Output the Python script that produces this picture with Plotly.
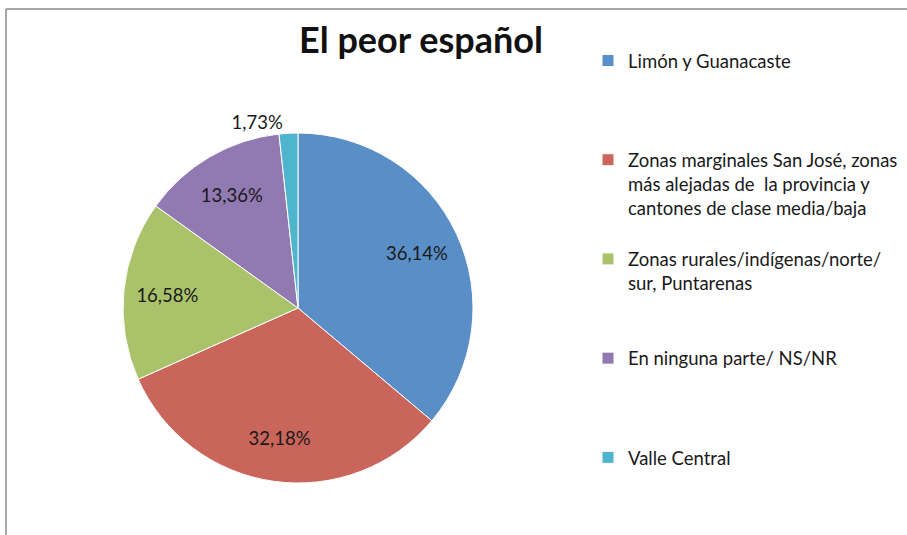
import plotly.graph_objects as go

categories = [
    "Limón y Guanacaste",
    "Zonas marginales San José, zonas más alejadas de  la provincia y cantones de clase media/baja",
    "Zonas rurales/indígenas/norte/ sur, Puntarenas",
    "En ninguna parte/ NS/NR",
    "Valle Central",
]
values = [36.14, 32.18, 16.58, 13.36, 1.73]
legend_lines = [
    ["Limón y Guanacaste"],
    ["Zonas marginales San José, zonas", "más alejadas de  la provincia y", "cantones de clase media/baja"],
    ["Zonas rurales/indígenas/norte/", "sur, Puntarenas"],
    ["En ninguna parte/ NS/NR"],
    ["Valle Central"],
]
colors = ["#5A8EC6", "#C9655B", "#AAC36B", "#9179B1", "#4FB4CE"]

W, H = 907, 535
SLOT = 4  # lines per legend slot
labels = []
for i, lines in enumerate(legend_lines):
    pad = SLOT - len(lines) if i < len(legend_lines) - 1 else 0
    labels.append("<br>".join(lines + [" "] * pad))

domain = dict(x=[123 / W, 473 / W], y=[52 / H, 402 / H])

fig = go.Figure()
# coloured slices + legend
fig.add_trace(go.Pie(
    labels=labels,
    values=values,
    customdata=categories,
    sort=False,
    direction="clockwise",
    rotation=0,
    marker=dict(colors=colors, line=dict(color="white", width=1)),
    textinfo="none",
    hovertemplate="%{customdata}: %{value:.2f}%<extra></extra>",
    domain=domain,
))
# transparent ring carrying the data labels (places them at ~3/4 radius)
fig.add_trace(go.Pie(
    labels=labels,
    values=values,
    sort=False,
    direction="clockwise",
    rotation=0,
    hole=0.5,
    showlegend=False,
    hoverinfo="skip",
    marker=dict(colors=["rgba(0,0,0,0)"] * len(values), line=dict(width=0)),
    texttemplate="%{value:.2f}%",
    textposition=["inside", "inside", "inside", "inside", "outside"],
    insidetextorientation="horizontal",
    textfont=dict(family="Lato", size=18.5, color="#1a1a1a"),
    domain=domain,
))

fig.update_layout(
    width=W, height=H,
    margin=dict(l=0, r=0, t=0, b=0),
    separators=",.",
    paper_bgcolor="white",
    font=dict(family="Lato", color="#1a1a1a"),
    title=dict(text="<b>El peor español</b>", x=421 / W, xanchor="center",
               y=1 - 40 / H, yanchor="middle",
               font=dict(family="Lato", size=36, color="#111111")),
    legend=dict(x=588 / W, xanchor="left", y=1 - 42 / H, yanchor="top",
                valign="top", font=dict(family="Lato", size=18.5, color="#1a1a1a"),
                itemwidth=30, tracegroupgap=0),
    shapes=[
        dict(type="line", xref="paper", yref="paper", x0=6 / W, x1=1.05, y0=1 - 9 / H, y1=1 - 9 / H,
             line=dict(color="#8a8a8a", width=1.5)),
        dict(type="line", xref="paper", yref="paper", x0=6 / W, x1=6 / W, y0=-0.05, y1=1 - 9 / H,
             line=dict(color="#8a8a8a", width=1.5)),
    ],
)

fig.write_html("out.html", config={"displayModeBar": False},
               post_script="document.body.style.margin='0';")
